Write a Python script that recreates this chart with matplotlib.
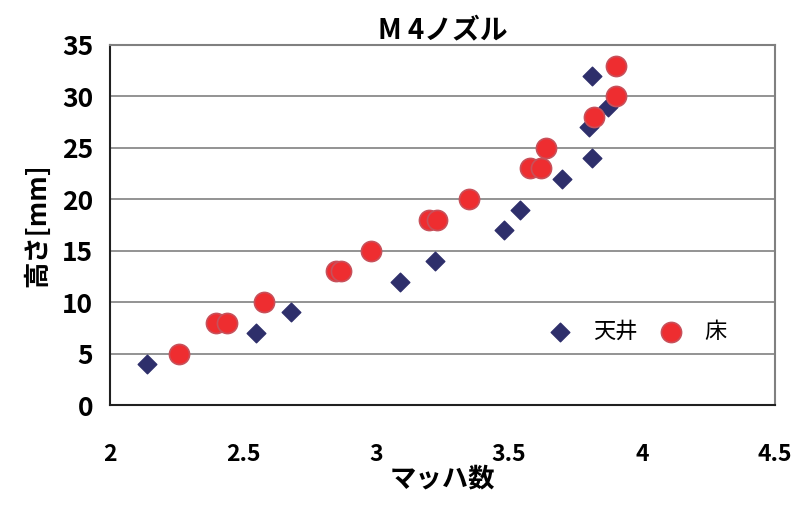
import matplotlib
matplotlib.use("Agg")
import matplotlib.pyplot as plt

plt.rcParams['font.family'] = ['Noto Sans CJK JP', 'DejaVu Sans']

# 天井 (ceiling)
ceil_mach = [2.14, 2.55, 2.68, 3.09, 3.22, 3.48, 3.54, 3.70, 3.81, 3.80, 3.87, 3.81]
ceil_h = [4, 7, 9, 12, 14, 17, 19, 22, 24, 27, 29, 32]

# 床 (floor)
floor_mach = [2.26, 2.40, 2.44, 2.58, 2.85, 2.87, 2.98, 3.20, 3.23, 3.35,
              3.58, 3.62, 3.64, 3.82, 3.90, 3.90]
floor_h = [5, 8, 8, 10, 13, 13, 15, 18, 18, 20, 23, 23, 25, 28, 30, 33]

xticks = [2, 2.5, 3, 3.5, 4, 4.5]
xtick_labels = ['2', '2.5', '3', '3.5', '4', '4.5']
yticks = [0, 5, 10, 15, 20, 25, 30, 35]

fig = plt.figure(figsize=(7.91, 5.05), dpi=100)
ax = fig.add_axes([0.139, 0.198, 0.841, 0.713])

ax.scatter(ceil_mach, ceil_h, marker='D', s=90, color='#2e2f6b', zorder=3, label='天井')
ax.scatter(floor_mach, floor_h, marker='o', s=210, color='#ee2d30',
           edgecolors='#c8505a', linewidths=1.2, zorder=3, label='床')

ax.set_xlim(2, 4.5)
ax.set_ylim(0, 35)
ax.set_xticks(xticks)
ax.set_xticklabels(xtick_labels)
ax.set_yticks(yticks)
ax.yaxis.grid(True, color='#808080', linewidth=1.2)
ax.set_axisbelow(True)
ax.tick_params(length=0, labelsize=19, pad=12)
ax.tick_params(axis='x', labelsize=16.5, pad=27)
for lab in ax.get_xticklabels() + ax.get_yticklabels():
    lab.set_fontweight('bold')

for side in ['top', 'right']:
    ax.spines[side].set_color('#808080')
    ax.spines[side].set_linewidth(1.5)
for side in ['left', 'bottom']:
    ax.spines[side].set_color('#202020')
    ax.spines[side].set_linewidth(1.5)

ax.set_title('M 4ノズル', fontsize=20, fontweight='bold', pad=2)
ax.set_xlabel('マッハ数', fontsize=19, fontweight='bold', labelpad=0)
ax.set_ylabel('高さ[mm]', fontsize=19, fontweight='bold', labelpad=8)

ax.legend(loc='center left', bbox_to_anchor=(0.63, 0.205), ncol=2, frameon=False,
          prop={'size': 16}, handlelength=1.0, columnspacing=1.0, handletextpad=1.0)

fig.savefig('out.png', dpi=100)
